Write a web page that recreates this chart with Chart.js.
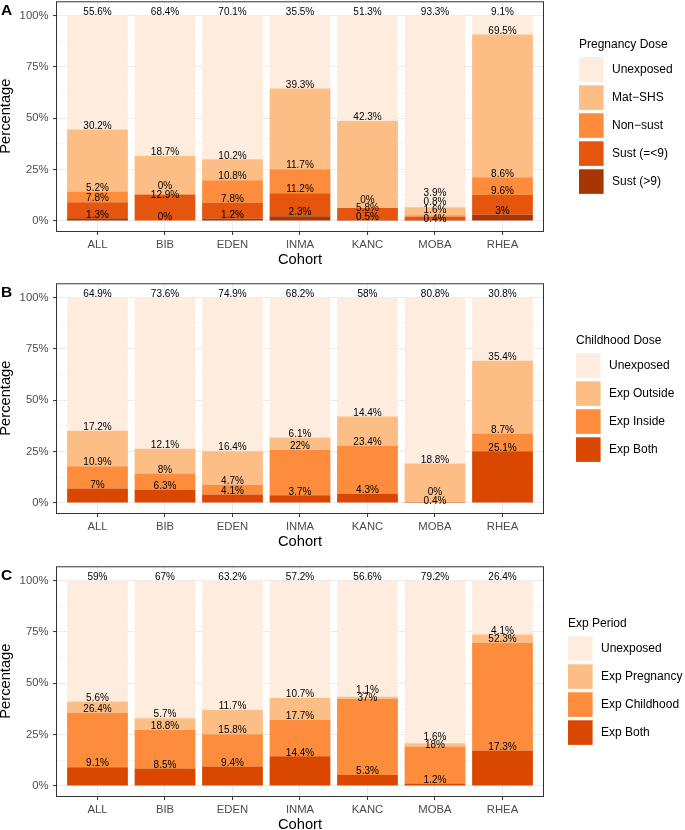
<!DOCTYPE html>
<html lang="en">
<head>
<meta charset="UTF-8">
<title>Tobacco smoke exposure by cohort</title>
<script src="https://cdn.jsdelivr.net/npm/chart.js"></script>
<style>
    body { margin: 0; background: white; }
    #wrap { position: relative; width: 685px; height: 830px; overflow: hidden; }
    canvas { position: absolute; left: 0; }
</style>
</head>
<body>
<div id="wrap">
    <canvas id="panelA" width="685" height="282" style="top:-10px"></canvas>
    <canvas id="panelB" width="685" height="282" style="top:272px"></canvas>
    <canvas id="panelC" width="685" height="282" style="top:554.6px"></canvas>
</div>
<script>
const cohorts = ['ALL', 'BIB', 'EDEN', 'INMA', 'KANC', 'MOBA', 'RHEA'];
const yTicks = [0, 12.5, 25, 37.5, 50, 62.5, 75, 87.5, 100];

// A - pregnancy dose (bottom to top)
const pregSustHigh = [1.3, 0, 1.2, 2.3, 0.5, 0.4, 3];
const pregSustLow = [7.8, 12.9, 7.8, 11.2, 5.8, 1.6, 9.6];
const pregNonSust = [5.2, 0, 10.8, 11.7, 0, 0.8, 8.6];
const pregMatShs = [30.2, 18.7, 10.2, 39.3, 42.3, 3.9, 69.5];
const pregUnexposed = [55.6, 68.4, 70.1, 35.5, 51.3, 93.3, 9.1];

// B - childhood dose
const childBoth = [7, 6.3, 4.1, 3.7, 4.3, 0.4, 25.1];
const childInside = [10.9, 8, 4.7, 22, 23.4, 0, 8.7];
const childOutside = [17.2, 12.1, 16.4, 6.1, 14.4, 18.8, 35.4];
const childUnexposed = [64.9, 73.6, 74.9, 68.2, 58, 80.8, 30.8];

// C - exposure period
const periodBoth = [9.1, 8.5, 9.4, 14.4, 5.3, 1.2, 17.3];
const periodChild = [26.4, 18.8, 15.8, 17.7, 37, 18, 52.3];
const periodPreg = [5.6, 5.7, 11.7, 10.7, 1.1, 1.6, 4.1];
const periodUnexposed = [59, 67, 63.2, 57.2, 56.6, 79.2, 26.4];

const FONT = "'Liberation Sans', Arial, sans-serif";

// draws the value labels (pushed apart like ggrepel), panel border, letter and legend
const panelDecor = {
    id: 'panelDecor',
    afterDatasetsDraw(chart, args, opts) {
        const ctx = chart.ctx;
        const ys = chart.scales.y;
        const ca = chart.chartArea;
        const gap = 8.5;
        const floorY = ys.getPixelForValue(0) - 2.1;

        ctx.save();
        ctx.font = '10px ' + FONT;
        ctx.fillStyle = '#000';
        ctx.textAlign = 'center';
        ctx.textBaseline = 'middle';
        cohorts.forEach((c, i) => {
            let cum = 0;
            const labs = [];
            chart.data.datasets.forEach((ds, d) => {
                const v = ds.data[i].y;
                cum += v;
                labs.push({ text: v + '%', y: ys.getPixelForValue(cum) - 3.5, d: d });
            });
            labs.sort((a, b) => (b.y - a.y) || (a.d - b.d));
            for (let it = 0; it < 100; it++) {
                for (let k = 0; k < labs.length - 1; k++) {
                    const lo = labs[k], hi = labs[k + 1];
                    if (lo.y - hi.y < gap) {
                        const s = (gap - (lo.y - hi.y)) / 2;
                        lo.y += s;
                        hi.y -= s;
                    }
                }
            }
            labs[0].y = Math.min(labs[0].y, floorY);
            for (let k = 1; k < labs.length; k++) {
                labs[k].y = Math.min(labs[k].y, labs[k - 1].y - gap);
            }
            const x = chart.scales.x.getPixelForValue(i + 1);
            labs.forEach(l => ctx.fillText(l.text, x, l.y));
        });

        ctx.strokeStyle = '#333333';
        ctx.lineWidth = 1;
        ctx.strokeRect(ca.left - 0.5, ca.top + 0.5, ca.right - ca.left + 1, ca.bottom - ca.top);

        ctx.textAlign = 'left';
        ctx.textBaseline = 'alphabetic';
        ctx.font = 'bold 15.5px ' + FONT;
        ctx.fillText(opts.letter, 1, ys.getPixelForValue(100));

        const items = chart.data.datasets.slice().reverse();
        const keyTop = ca.top + 70 - (items.length - 4) * 14;
        ctx.font = '12px ' + FONT;
        ctx.fillText(opts.title, opts.legendX, keyTop - 9.5);
        ctx.textBaseline = 'middle';
        items.forEach((ds, k) => {
            const top = keyTop + k * 28;
            ctx.fillStyle = ds.backgroundColor;
            ctx.fillRect(opts.legendX, top, 24.6, 24.6);
            ctx.fillStyle = '#000';
            ctx.fillText(ds.label, opts.legendX + 33, top + 12.3);
        });
        ctx.restore();
    }
};

function toPoints(arr) {
    return arr.map((v, i) => ({ x: i + 1, y: v }));
}

function makePanel(id, letter, title, legendX, series) {
    return new Chart(document.getElementById(id), {
        type: 'bar',
        data: {
            datasets: series.map(s => ({
                label: s.label,
                data: toPoints(s.values),
                backgroundColor: s.color,
                borderWidth: 0,
                barPercentage: 0.9,
                categoryPercentage: 1
            }))
        },
        options: {
            responsive: false,
            animation: false,
            devicePixelRatio: 1,
            layout: { padding: { top: 11, right: 142, left: 0, bottom: 0 } },
            plugins: {
                legend: { display: false },
                tooltip: { enabled: false },
                panelDecor: { letter: letter, title: title, legendX: legendX }
            },
            scales: {
                x: {
                    type: 'linear',
                    stacked: true,
                    offset: false,
                    min: 0.4,
                    max: 7.6,
                    afterBuildTicks: s => { s.ticks = cohorts.map((c, i) => ({ value: i + 1 })); },
                    afterFit: s => { s.height = 41; },
                    ticks: {
                        callback: v => cohorts[Math.round(v) - 1],
                        color: '#4d4d4d',
                        font: { size: 11.3, family: FONT },
                        padding: 3,
                        autoSkip: false,
                        maxRotation: 0
                    },
                    grid: { offset: false, color: '#ebebeb', lineWidth: 1.1, tickLength: 4, tickColor: '#333333', tickWidth: 1 },
                    border: { display: false },
                    title: {
                        display: true,
                        text: 'Cohort',
                        color: '#000',
                        font: { size: 14.7, family: FONT },
                        padding: { top: 0, bottom: 3.7 }
                    }
                },
                y: {
                    stacked: true,
                    min: -4.9,
                    max: 106.9,
                    afterBuildTicks: s => { s.ticks = yTicks.map(v => ({ value: v })); },
                    afterFit: s => { s.width = 57; },
                    ticks: {
                        callback: v => (v % 25 === 0 ? v + '%' : ''),
                        color: '#4d4d4d',
                        font: { size: 11.3, family: FONT },
                        padding: 4.5,
                        autoSkip: false
                    },
                    grid: {
                        color: c => (c.tick && c.tick.value % 25 === 0 ? '#ebebeb' : '#f4f4f4'),
                        lineWidth: c => (c.tick && c.tick.value % 25 === 0 ? 1.1 : 0.8),
                        tickLength: 4,
                        tickWidth: 1,
                        tickColor: c => (c.tick && c.tick.value % 25 === 0 ? '#333333' : 'rgba(0,0,0,0)')
                    },
                    border: { display: false },
                    title: {
                        display: true,
                        text: 'Percentage',
                        color: '#000',
                        font: { size: 14.7, family: FONT, lineHeight: 0.82 },
                        padding: 0
                    }
                }
            }
        },
        plugins: [panelDecor]
    });
}

makePanel('panelA', 'A', 'Pregnancy Dose', 579, [
    { label: 'Sust (>9)', values: pregSustHigh, color: '#a63603' },
    { label: 'Sust (=<9)', values: pregSustLow, color: '#e6550d' },
    { label: 'Non\u2212sust', values: pregNonSust, color: '#fd8d3c' },
    { label: 'Mat\u2212SHS', values: pregMatShs, color: '#fdbe85' },
    { label: 'Unexposed', values: pregUnexposed, color: '#feedde' }
]);

makePanel('panelB', 'B', 'Childhood Dose', 576, [
    { label: 'Exp Both', values: childBoth, color: '#d94701' },
    { label: 'Exp Inside', values: childInside, color: '#fd8d3c' },
    { label: 'Exp Outside', values: childOutside, color: '#fdbe85' },
    { label: 'Unexposed', values: childUnexposed, color: '#feedde' }
]);

makePanel('panelC', 'C', 'Exp Period', 568, [
    { label: 'Exp Both', values: periodBoth, color: '#d94701' },
    { label: 'Exp Childhood', values: periodChild, color: '#fd8d3c' },
    { label: 'Exp Pregnancy', values: periodPreg, color: '#fdbe85' },
    { label: 'Unexposed', values: periodUnexposed, color: '#feedde' }
]);
</script>
</body>
</html>
